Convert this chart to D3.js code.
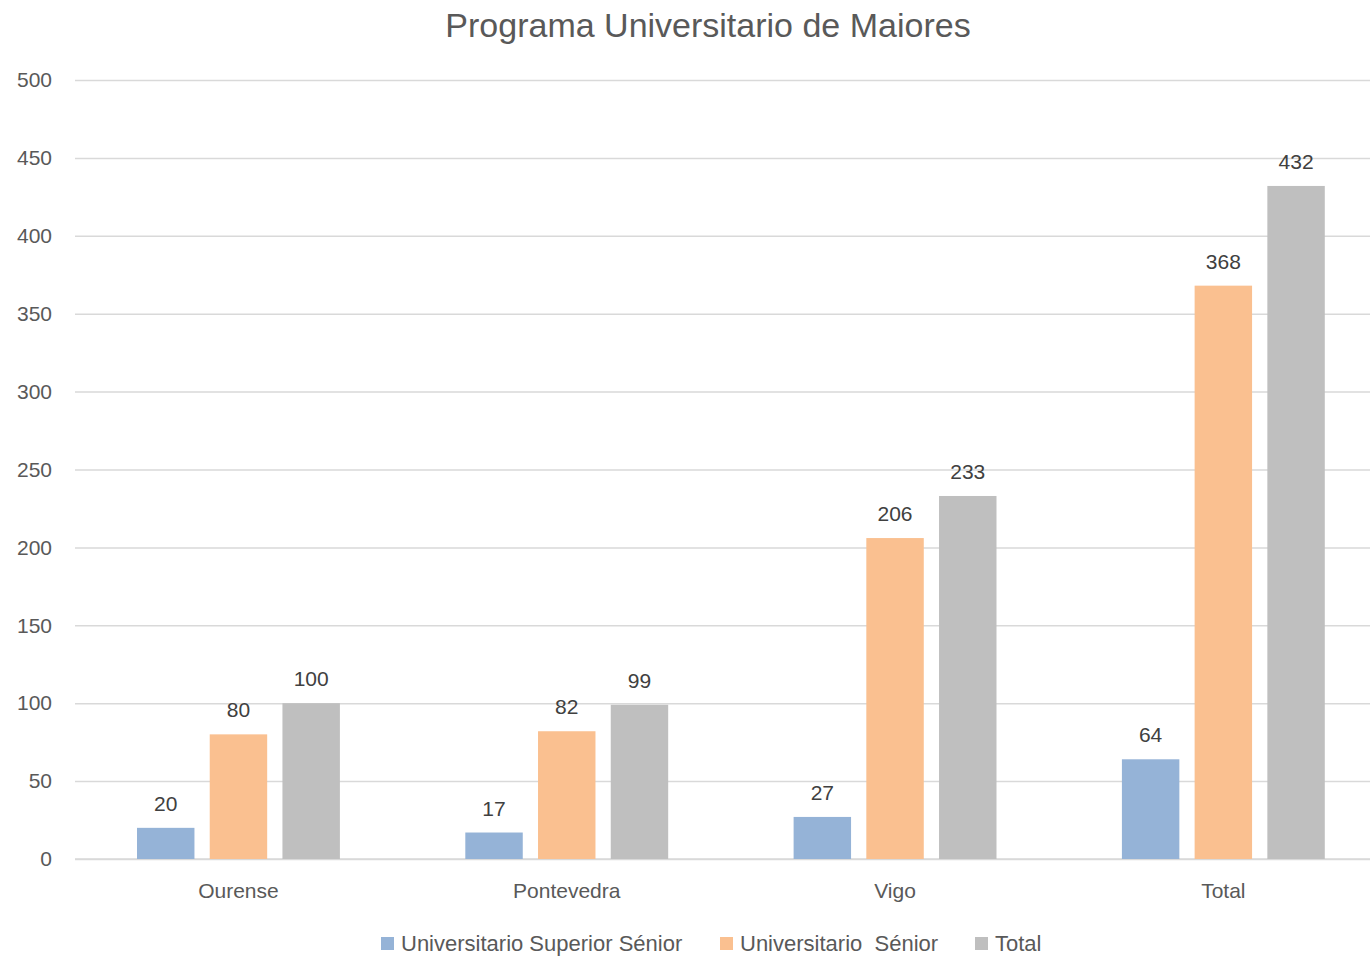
<!DOCTYPE html>
<html><head><meta charset="utf-8">
<script src="https://cdn.jsdelivr.net/npm/d3@7"></script>
<style>body{margin:0;background:#fff}svg{display:block}text{font-family:"Liberation Sans",Arial,sans-serif}</style>
</head><body><svg id="c" width="1370" height="956"></svg>
<script>
const categories = ["Ourense","Pontevedra","Vigo","Total"];
const seriesNames = ["Universitario Superior Sénior","Universitario  Sénior","Total"];
const superiorSenior = [20,17,27,64];
const senior = [80,82,206,368];
const total = [100,99,233,432];
const yTicks = [0,50,100,150,200,250,300,350,400,450,500];
const colors = ["#95B3D7","#FAC090","#BFBFBF"];
const seriesValues = [superiorSenior, senior, total];

(function(){
const svg = d3.select("#c");
const pLeft = 75, pRight = 1370, pTop = 80, pBottom = 859;
const y = d3.scaleLinear().domain([0,500]).range([pBottom, pTop]);
const x0 = d3.scaleBand().domain(categories).range([74.3, 1387.5]).padding(0);
const bw = x0.bandwidth();
const x1 = d3.scaleBand().domain(seriesNames.map((d,i)=>i)).range([bw*0.191, bw*0.809]).paddingInner(0.21).paddingOuter(0);

svg.append("text").attr("x", 708).attr("y", 37).attr("text-anchor","middle")
  .attr("font-size", 34).attr("fill","#595959").text("Programa Universitario de Maiores");

const yAxis = d3.axisLeft(y).tickValues(yTicks).tickSize(-(pRight-pLeft)).tickPadding(23);
const gy = svg.append("g").attr("transform",`translate(${pLeft},0)`).call(yAxis);
gy.select(".domain").remove();
gy.selectAll(".tick line").attr("stroke","#D9D9D9").attr("stroke-width",1.5);
gy.selectAll(".tick text").attr("fill","#595959").attr("font-size",21);

const gx = svg.append("g").attr("transform",`translate(0,${pBottom})`).call(d3.axisBottom(x0).tickSize(0).tickPadding(24));
gx.select(".domain").remove();
svg.append("line").attr("x1",pLeft).attr("x2",pRight).attr("y1",pBottom).attr("y2",pBottom).attr("stroke","#D9D9D9").attr("stroke-width",1.5);
gx.selectAll(".tick text").attr("fill","#595959").attr("font-size",21);

const data = [];
categories.forEach((c,ci)=>seriesValues.forEach((s,si)=>data.push({c, si, v: s[ci]})));

const g = svg.append("g");
g.selectAll("rect").data(data).join("rect")
  .attr("x", d=>x0(d.c)+x1(d.si)).attr("width", x1.bandwidth())
  .attr("y", d=>y(d.v)).attr("height", d=>y(0)-y(d.v))
  .attr("fill", d=>colors[d.si]);
g.selectAll("text.lbl").data(data).join("text").attr("class","lbl")
  .attr("x", d=>x0(d.c)+x1(d.si)+x1.bandwidth()/2).attr("y", d=>y(d.v)-17)
  .attr("text-anchor","middle").attr("font-size",21).attr("fill","#404040").text(d=>d.v);

const legX = [381, 720, 975];
const lg = svg.append("g");
seriesNames.forEach((n,i)=>{
  lg.append("rect").attr("x",legX[i]).attr("y",937).attr("width",13).attr("height",13).attr("fill",colors[i]);
  lg.append("text").attr("x",legX[i]+20).attr("y",951).attr("font-size",22).attr("fill","#595959").style("white-space","pre").text(n);
});
})();
</script></body></html>
